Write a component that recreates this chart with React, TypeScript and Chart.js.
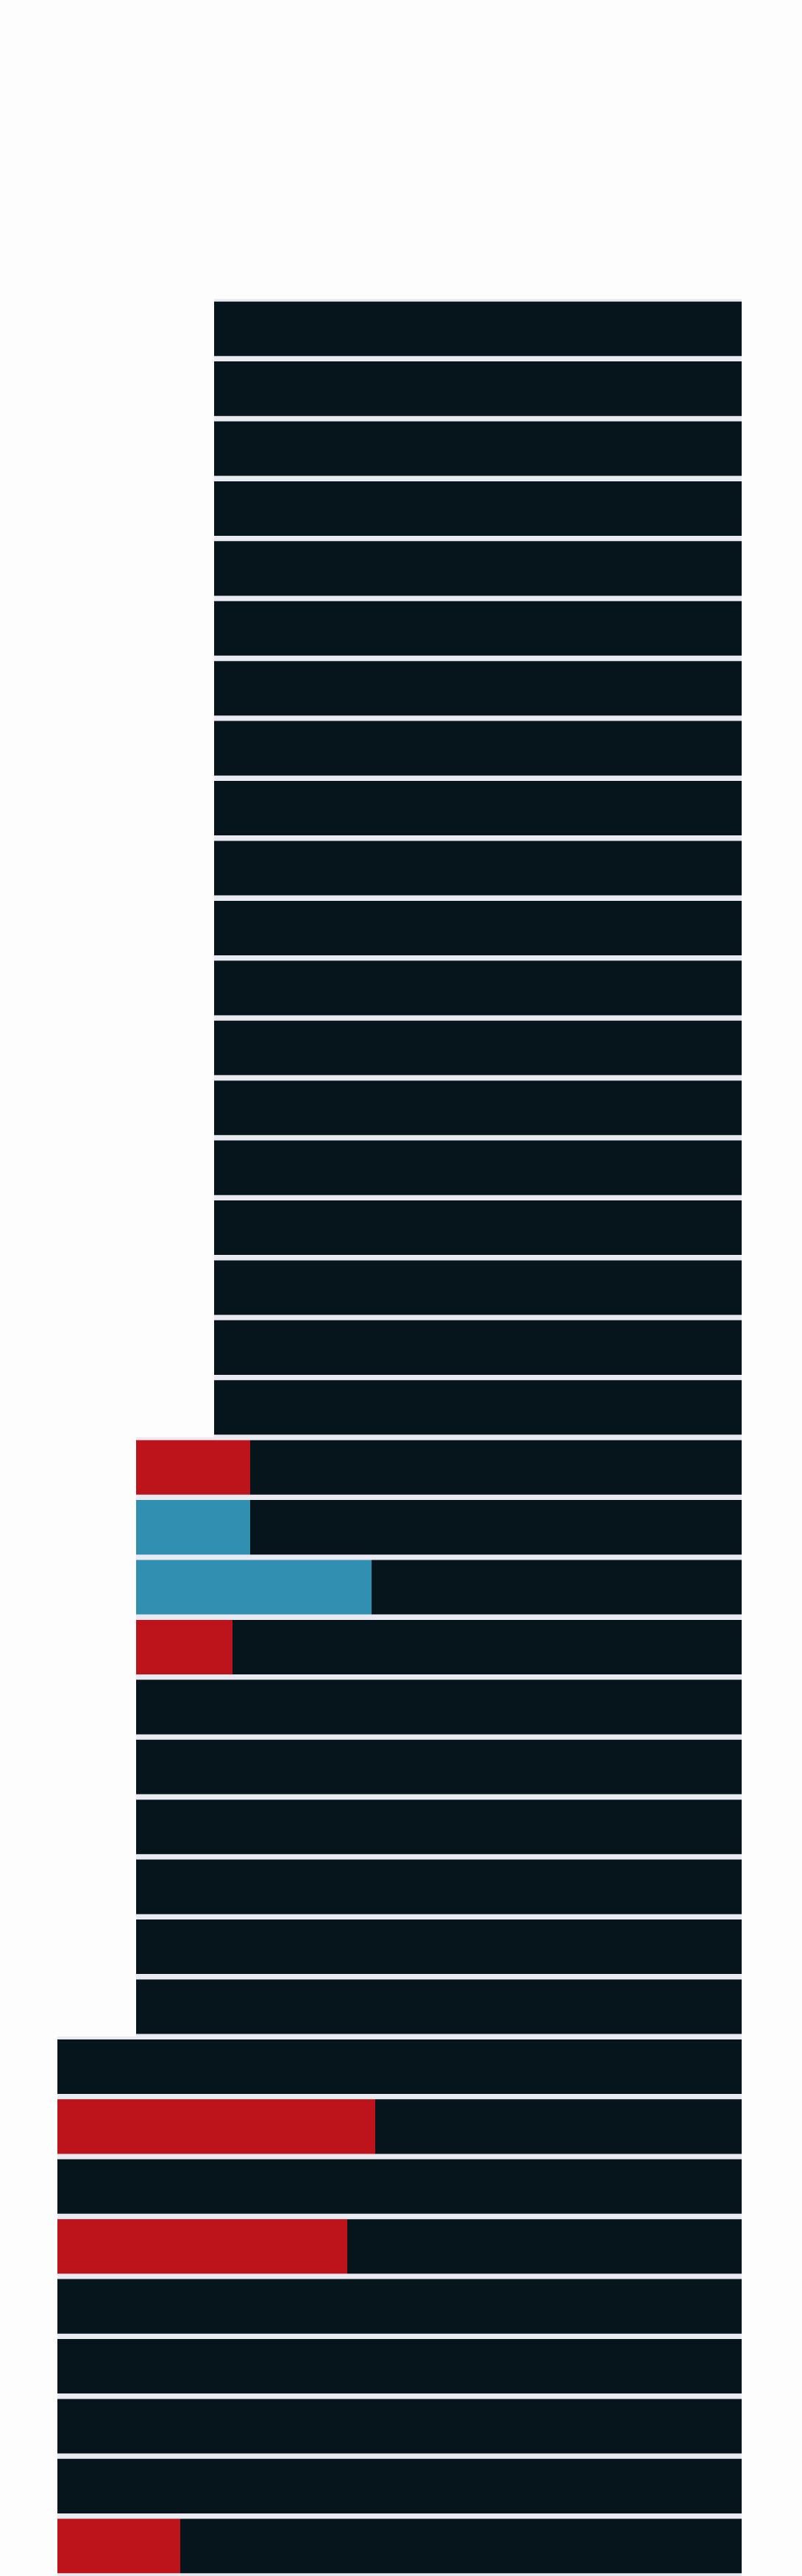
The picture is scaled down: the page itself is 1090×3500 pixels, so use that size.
import { useEffect, useRef } from "react";
import { Chart, registerables } from "chart.js";

Chart.register(...registerables);

// Rows, top to bottom (values in pixels of the 1090-wide chart)
const rows = Array.from({ length: 38 }, (_, i) => String(i + 1));
const rowStart = [
  ...Array(19).fill(291),
  ...Array(10).fill(185),
  ...Array(9).fill(78),
];
const rowEnd = Array(38).fill(1008);
// highlighted part at the left end of a row: [row index, end, colour key]
const highlights: [number, number, string][] = [
  [19, 340, "red"],
  [20, 340, "blue"],
  [21, 505, "blue"],
  [22, 316, "red"],
  [30, 510, "red"],
  [32, 472, "red"],
  [37, 245, "red"],
];

const DARK = "#06151c";
const GAP = "#eaeaf3";
const COLORS: Record<string, string> = { red: "#bd141b", blue: "#318fb1" };

const App = () => {
  const canvasRef = useRef<HTMLCanvasElement>(null);
  const chartRef = useRef<Chart | null>(null);

  useEffect(() => {
    document.body.style.margin = "0";
    if (!canvasRef.current) return;

    const hlData = rows.map((_, i) => {
      const h = highlights.find((x) => x[0] === i);
      return h ? [rowStart[i], h[1]] : null;
    });
    const hlColors = rows.map((_, i) => {
      const h = highlights.find((x) => x[0] === i);
      return h ? COLORS[h[2]] : DARK;
    });
    const border = { top: 4, bottom: 4, left: 0, right: 0 };

    chartRef.current = new Chart(canvasRef.current, {
      type: "bar",
      data: {
        labels: rows,
        datasets: [
          {
            data: rows.map((_, i) => [rowStart[i], rowEnd[i]]) as any,
            backgroundColor: DARK,
            borderColor: GAP,
            borderWidth: border,
            borderSkipped: false,
            barPercentage: 1,
            categoryPercentage: 1,
            grouped: false,
            order: 2,
          },
          {
            data: hlData as any,
            backgroundColor: hlColors,
            borderColor: GAP,
            borderWidth: border,
            borderSkipped: false,
            barPercentage: 1,
            categoryPercentage: 1,
            grouped: false,
            order: 1,
          },
        ],
      },
      options: {
        indexAxis: "y",
        animation: false,
        responsive: false,
        layout: { padding: { top: 406, bottom: 0, left: 0, right: 0 } },
        plugins: { legend: { display: false }, tooltip: { enabled: false } },
        scales: {
          x: { display: false, min: 0, max: 1090 },
          y: { display: false },
        },
      },
    });

    return () => {
      chartRef.current?.destroy();
    };
  }, []);

  return (
    <div style={{ width: 1090, height: 3500, background: "#fdfdfd" }}>
      <canvas ref={canvasRef} width={1090} height={3500} />
    </div>
  );
};

export default App;
